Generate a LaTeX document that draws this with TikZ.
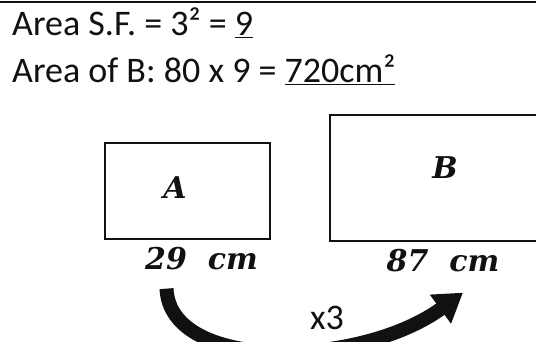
\documentclass[tikz,border=0pt]{standalone}
\usepackage{fontspec}
\setmainfont{Carlito}
\newfontfamily\handfont{DejaVu Serif}
\usetikzlibrary{arrows.meta,positioning}
\definecolor{inkblack}{HTML}{111111}

\begin{document}
\begin{tikzpicture}[x=1pt, y=-1pt,
          node distance=4pt and 6pt,
          calc/.style={anchor=base west, inner sep=0pt, font=\fontsize{36}{40}\selectfont, text=inkblack},
          shapebox/.style={draw=inkblack, line width=1.1pt, minimum width=165pt, minimum height=96pt, inner sep=0pt},
          letter/.style={font=\handfont\bfseries\itshape\fontsize{30}{32}\selectfont, text=inkblack},
          dimlabel/.style={letter, inner sep=1pt},
          arr/.style={-{Triangle[length=28pt, width=34pt]}, line width=14pt, inkblack}
        ]
        \useasboundingbox (0,0) rectangle (536,342);
        \draw[inkblack, line width=2.5pt] (0,2) coordinate (tl) -- (536,2) coordinate (tr);
        \node[calc] (sf) at (12,36) {Area S.F. = 3² = \underline{9}};
        \node[calc] (areab) at (12,83) {Area of B: 80 x 9 = \underline{720cm²}};
        \node[shapebox] (ra) at (187.5,191) {};
        \node[shapebox, minimum width=230pt, minimum height=126pt] (rb) at (445,178) {};
        \node[letter] (la) at (175,188) {A};
        \node[letter] (lb) at (445,168) {B};
        \node[dimlabel, below=6pt of ra.south, xshift=14pt] (l29) {29\ \ cm};
        \node[dimlabel, below=6pt of rb.south, xshift=-2pt] (l87) {87\ \ cm};
        \node[calc, anchor=center] (times) at (327,318) {x3};
        \coordinate (from) at ([xshift=-35pt, yshift=-18pt]l29.south);
        \coordinate (to) at ([xshift=20pt, yshift=-20pt]l87.south);
        \draw[arr] (from) .. controls (170,372) and (360,368) .. (to);
      \end{tikzpicture}
\end{document}
